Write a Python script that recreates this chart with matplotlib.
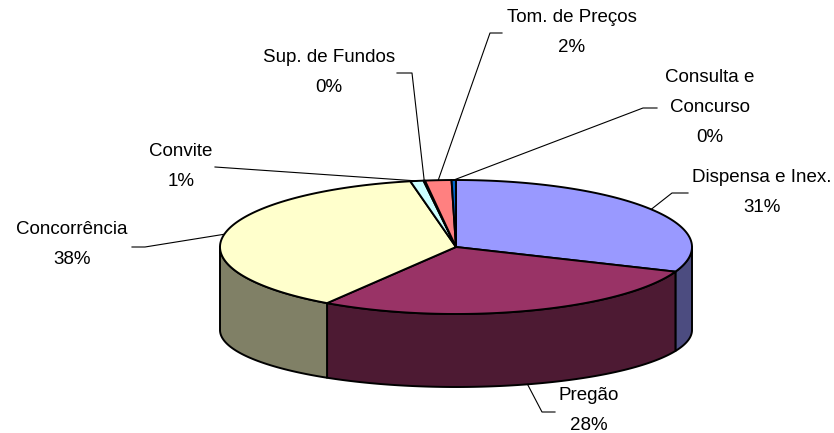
import numpy as np
import matplotlib.pyplot as plt
from matplotlib.patches import Polygon

# ── Dados ─────────────────────────────────────────────────────
labels = ["Dispensa e Inex.", "Pregão", "Concorrência", "Convite",
          "Sup. de Fundos", "Tom. de Preços", "Consulta e\nConcurso"]
values = [31.0, 28.2, 37.7, 0.9, 0.1, 1.8, 0.3]

top_colors  = ["#9999FF", "#993366", "#FFFFCC", "#CCFFFF", "#660066", "#FF8080", "#0066CC"]
side_colors = ["#4C4C80", "#4D1A33", "#808066", "#668080", "#330033", "#804040", "#003366"]

# ── Layout (pixels) ───────────────────────────────────────────
CX, RX = 456, 236
CY_TOP, RY_TOP = 247, 67
CY_BOT, RY_BOT = 330, 57

# text centre + leader elbow / end for each label
text_pos = [(762, 193), (589, 410), (72, 245), (181, 166),
            (329, 72), (572, 32), (710, 108)]
leader = [[(672, 193), (688, 193)],
          [(542, 412), (555, 412)],
          [(145, 247), (132, 247)],
          [(215, 167)],
          [(412, 73), (397, 73)],
          [(490, 33), (502, 33)],
          [(643, 108), (657, 108)]]


def pt(theta, cy, ry):
    t = np.radians(theta)
    return CX + RX * np.sin(t), cy - ry * np.cos(t)


fig = plt.figure(figsize=(8.34, 4.33), dpi=100)
ax = fig.add_axes([0, 0, 1, 1])
ax.set_xlim(0, 834)
ax.set_ylim(433, 0)
ax.axis("off")

total = sum(values)
edges = np.concatenate([[0], np.cumsum(values)]) / total * 360

# ── Paredes laterais (metade da frente) ───────────────────────
for i in range(len(values)):
    lo, hi = max(edges[i], 90), min(edges[i + 1], 270)
    if hi <= lo:
        continue
    th = np.linspace(lo, hi, 120)
    xt, yt = pt(th, CY_TOP, RY_TOP)
    xb, yb = pt(th[::-1], CY_BOT, RY_BOT)
    poly = np.column_stack([np.r_[xt, xb], np.r_[yt, yb]])
    ax.add_patch(Polygon(poly, closed=True, fc=side_colors[i], ec="black",
                         lw=1.4, joinstyle="round"))

# ── Faces de cima ─────────────────────────────────────────────
for i in range(len(values)):
    a, b = edges[i], edges[i + 1]
    th = np.linspace(a, b, max(2, int((b - a) * 2)))
    xt, yt = pt(th, CY_TOP, RY_TOP)
    poly = np.column_stack([np.r_[CX, xt], np.r_[CY_TOP, yt]])
    ax.add_patch(Polygon(poly, closed=True, fc=top_colors[i], ec="black",
                         lw=1.4, joinstyle="round"))

# ── Rótulos e linhas de chamada ───────────────────────────────
for i, lab in enumerate(labels):
    mid = (edges[i] + edges[i + 1]) / 2
    if 90 < mid < 270:
        ax_, ay_ = pt(mid, CY_BOT, RY_BOT)
    else:
        ax_, ay_ = pt(mid, CY_TOP, RY_TOP)
    path = [(ax_, ay_)] + leader[i]
    ax.plot([p[0] for p in path], [p[1] for p in path], color="black", lw=0.8)
    pct = round(values[i] / total * 100)
    ax.text(text_pos[i][0], text_pos[i][1], f"{lab}\n{pct}%",
            ha="center", va="center", multialignment="center",
            fontsize=13.5, family="Liberation Sans", linespacing=2.0)

plt.savefig("out.png", dpi=100)
